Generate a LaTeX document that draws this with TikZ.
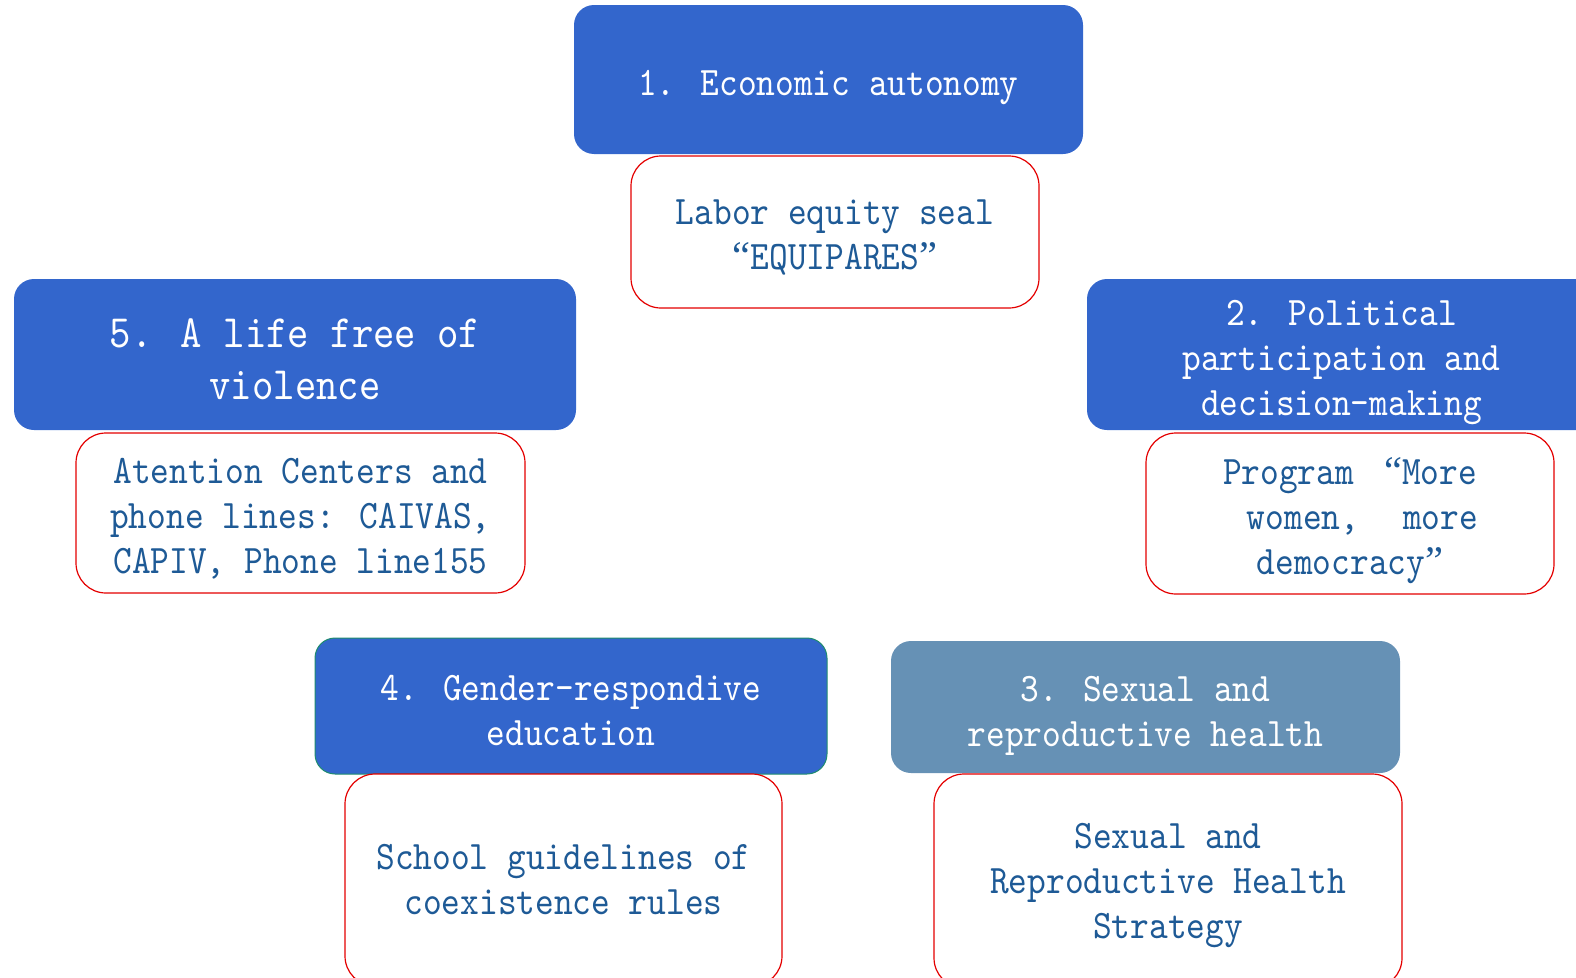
\documentclass[tikz,border=0pt]{standalone}
\usepackage{fontspec}
\setmainfont{lmmono10-regular}[Extension=.otf, FakeStretch=0.88]
\newfontfamily\quotefont{Liberation Serif}
\newcommand{\openq}{{\quotefont “}}
\newcommand{\closeq}{{\quotefont ”}}
\definecolor{boxblue}{RGB}{51,102,204}
\definecolor{boxslate}{RGB}{102,145,181}
\definecolor{notered}{RGB}{228,0,0}
\definecolor{notetext}{RGB}{30,90,150}
\definecolor{edgegreen}{RGB}{30,140,110}
\tikzset{
  areabox/.style={rectangle, rounded corners=20pt, fill=boxblue, inner sep=0pt},
  notebox/.style={rectangle, rounded corners=30pt, draw=notered, line width=1.2pt,
    fill=white, inner sep=0pt},
  areatext/.style={text=white, align=center, inner sep=0pt,
    font=\fontsize{40.5}{45}\selectfont},
  notetext/.style={text=notetext, align=center, inner sep=0pt,
    font=\fontsize{40.5}{45}\selectfont},
}
\begin{document}
\begin{tikzpicture}[x=1pt,y=-1pt]
\useasboundingbox (0,0) rectangle (1576,977);
\clip (0,0) rectangle (1576,977);

% 1. Economic autonomy
\node[areabox, minimum width=509pt, minimum height=149pt] (a1) at (828.5,79.5) {};
\node[areatext, yshift=-8pt] (a1t) at (a1.center) {1. Economic autonomy};
\node[notebox, minimum width=408pt, minimum height=152pt] (n1) at (835,232) {};
\node[notetext, yshift=-5.5pt] (n1t) at (n1.center)
  {Labor equity seal\\\openq EQUIPARES\closeq};

% 5. A life free of violence
\node[areabox, minimum width=562pt, minimum height=151pt] (a5) at (295,354.5) {};
\node[areatext, font=\fontsize{46.3}{52}\selectfont, yshift=-5pt] (a5t)
  at (a5.center) {5. A life free of\\violence};
\node[notebox, minimum width=449pt, minimum height=160pt] (n5) at (300.5,513) {};
\node[notetext, yshift=-6pt] (n5t) at (n5.center)
  {Atention Centers and\\phone lines: CAIVAS,\\CAPIV, Phone line155};

% 2. Political participation and decision-making
\node[areabox, minimum width=523pt, minimum height=151pt] (a2) at (1348.5,354.5) {};
\node[areatext, xshift=-7pt, yshift=-8.5pt] (a2t) at (a2.center)
  {2. Political\\participation and\\decision-making};
\node[notebox, minimum width=408pt, minimum height=161pt] (n2) at (1350,513.5) {};
\node[notetext, yshift=-7.5pt] (n2t) at (n2.center)
  {Program\hspace{30pt}\openq More\\\hspace*{25pt}women,\hspace{44pt}more\\democracy\closeq};

% 4. Gender-respondive education
\node[areabox, draw=edgegreen, line width=1pt, minimum width=512pt,
  minimum height=136pt] (a4) at (571,706) {};
\node[areatext, yshift=-4.5pt] (a4t) at (a4.center)
  {4. Gender-respondive\\education};
\node[notebox, minimum width=437pt, minimum height=212pt] (n4) at (563.5,880) {};
\node[notetext] (n4t) at (n4.center) {School guidelines of\\coexistence rules};

% 3. Sexual and reproductive health
\node[areabox, fill=boxslate, minimum width=509pt, minimum height=132pt]
  (a3) at (1145.5,707) {};
\node[areatext, yshift=-8.5pt] (a3t) at (a3.center)
  {3. Sexual and\\reproductive health};
\node[notebox, minimum width=468pt, minimum height=214pt] (n3) at (1168,881) {};
\node[notetext, yshift=-5pt] (n3t) at (n3.center)
  {Sexual and\\Reproductive Health\\Strategy};
\end{tikzpicture}
\end{document}
